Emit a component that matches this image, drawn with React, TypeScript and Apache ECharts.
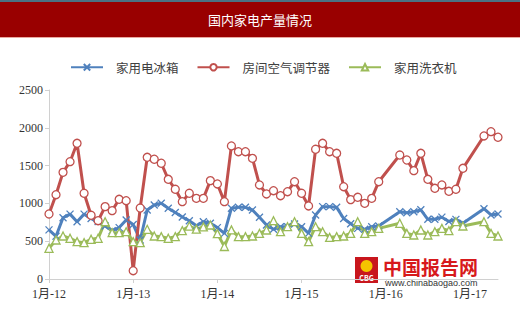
import React, { useEffect, useRef } from "react";
import * as echarts from "echarts";

const years = ["12", "13", "14", "15", "16", "17"];
const monthCount = 65;
const categories: string[] = years
  .flatMap((y) => Array.from({ length: 12 }, (_, i) => `${i + 1}月-${y}`))
  .slice(0, monthCount);

const seriesNames = ["家用电冰箱", "房间空气调节器", "家用洗衣机"];

const fridge: (number | null)[] = [
  650, 565, 810, 858, 758, 858, 800, 760, 700, 640, 680, 780,
  720, 516, 913, 979, 1001, 935, 880, 820, 770, 705, 758, 737,
  680, 604, 935, 948, 948, 913, 816, 714, 657, 692, 692, 728,
  692, 604, 847, 957, 957, 948, 800, 730, 670, 657, 692, 701,
  null, null, 890, 877, 890, 915, 790, 790, 818, 760, 789, 737,
  null, null, 930, 847, 860,
];

const aircon: (number | null)[] = [
  860, 1115, 1411, 1552, 1795, 1134, 843, 771, 957, 904, 1054, 1036,
  110, 939, 1610, 1584, 1531, 1319, 1187, 1023, 1134, 1067, 1067, 1301,
  1257, 1023, 1760, 1684, 1684, 1596, 1244, 1125, 1168, 1102, 1155, 1287,
  1134, 966, 1716, 1795, 1684, 1663, 1221, 1050, 1081, 1001, 1067, 1287,
  null, null, 1640, 1574, 1433, 1663, 1319, 1200, 1244, 1160, 1187, 1464,
  null, null, 1892, 1949, 1875,
];

const washer: (number | null)[] = [
  406, 516, 569, 538, 494, 481, 525, 538, 758, 613, 613, 626,
  494, 481, 657, 569, 560, 538, 560, 640, 700, 660, 690, 714,
  600, 430, 650, 560, 560, 569, 604, 648, 771, 626, 692, 758,
  604, 494, 692, 626, 551, 560, 569, 604, 758, 604, 626, 670,
  null, null, 737, 604, 582, 648, 582, 626, 670, 639, 758, 701,
  null, null, 758, 604, 569,
];

const yTicks = { min: 0, max: 2500, interval: 500 };

const BLUE = "#4F81BD";
const RED = "#C0504D";
const GREEN = "#9BBB59";
const SERIF = "'Liberation Serif', 'DejaVu Serif', 'Noto Sans CJK SC', serif";
const SANS = "'Noto Sans CJK SC', sans-serif";

export default function App() {
  const ref = useRef<HTMLDivElement>(null);
  useEffect(() => {
    document.body.style.margin = "0";
    if (!ref.current) return;
    const chart = echarts.init(ref.current, null, { renderer: "svg" });
    const mk = (name: string, data: (number | null)[], color: string, symbol: string, size: number) => ({
      name,
      type: "line",
      data,
      connectNulls: true,
      symbol,
      symbolSize: size,
      showSymbol: true,
      showAllSymbol: true,
      lineStyle: { color, width: 3 },
      itemStyle: { color: symbol.startsWith("path") ? color : "#fff", borderColor: color, borderWidth: 1.3 },
      emphasis: { disabled: true },
    });
    chart.setOption({
      animation: false,
      backgroundColor: "#fff",
      graphic: [
        { type: "rect", shape: { x: 0, y: 0, width: 520, height: 2 }, style: { fill: "#4a7283" } },
        { type: "rect", shape: { x: 0, y: 2, width: 520, height: 35 }, style: { fill: "#990000" } },
        { type: "rect", shape: { x: 0, y: 37, width: 520, height: 1 }, style: { fill: "#e9a9a0" } },
        {
          type: "text",
          x: 260,
          y: 19.5,
          style: { text: "国内家电产量情况", fill: "#fff", font: `13px ${SANS}`, textAlign: "center", textVerticalAlign: "middle" },
        },
        { type: "rect", shape: { x: 355, y: 257, width: 23, height: 26 }, style: { fill: "#c8161d" } },
        { type: "circle", shape: { cx: 366.5, cy: 266, r: 6 }, style: { fill: "#f5c400" } },
        {
          type: "text",
          x: 366.5,
          y: 278,
          style: { text: "CBG", fill: "#fff", font: `bold 7px ${SANS}`, textAlign: "center", textVerticalAlign: "middle" },
        },
        {
          type: "text",
          x: 383,
          y: 266,
          style: { text: "中国报告网", fill: "#d7191c", font: `bold 19px ${SANS}`, textAlign: "left", textVerticalAlign: "middle" },
        },
        {
          type: "text",
          x: 385,
          y: 283,
          style: { text: "www.chinabaogao.com", fill: "#333", font: `9px 'Liberation Sans', sans-serif`, textAlign: "left", textVerticalAlign: "middle" },
        },
      ],
      legend: {
        top: 56,
        left: 65,
        itemWidth: 32,
        itemHeight: 8,
        itemGap: 18,
        data: seriesNames,
        textStyle: { fontSize: 12.5, color: "#404040", fontFamily: SANS, padding: [0, 0, 0, 8] },
      },
      grid: { left: 49, right: 22, top: 90, bottom: 36, containLabel: false },
      xAxis: {
        type: "category",
        data: categories,
        boundaryGap: false,
        axisLine: { lineStyle: { color: "#d0d0d0", width: 1 } },
        axisTick: { show: true, interval: 11, length: 4, lineStyle: { color: "#d0d0d0" } },
        axisLabel: { interval: 11, color: "#333", fontSize: 12, fontFamily: SERIF, margin: 9 },
        splitLine: { show: false },
      },
      yAxis: {
        type: "value",
        min: yTicks.min,
        max: yTicks.max,
        interval: yTicks.interval,
        axisLine: { show: true, lineStyle: { color: "#d0d0d0", width: 1 } },
        axisTick: { show: true, length: 4, lineStyle: { color: "#d0d0d0" } },
        axisLabel: { color: "#333", fontSize: 12, fontFamily: SERIF, margin: 6, formatter: (v: number) => String(v) },
        splitLine: { show: false },
      },
      series: [
        mk(seriesNames[0], fridge, BLUE, "path://M0,0L10,10M10,0L0,10", 7),
        mk(seriesNames[1], aircon, RED, "circle", 8),
        mk(seriesNames[2], washer, GREEN, "triangle", 8),
      ],
    });
    return () => chart.dispose();
  }, []);
  return <div ref={ref} style={{ width: 520, height: 315 }} />;
}
